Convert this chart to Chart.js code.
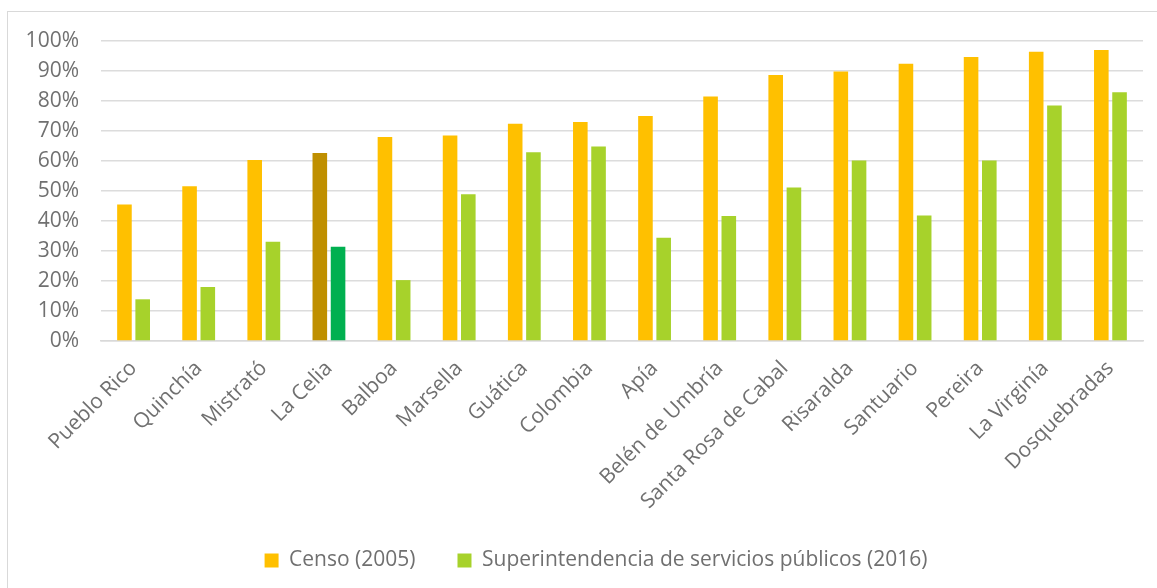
<!DOCTYPE html>
<html>
<head>
<meta charset="utf-8">
<script src="https://cdn.jsdelivr.net/npm/chart.js@4.4.0/dist/chart.umd.min.js"></script>
<style>
  html, body { margin: 0; padding: 0; background: #ffffff; overflow: hidden; }
  #wrap { position: relative; width: 1157px; height: 588px; }
  #frame { position: absolute; left: 7px; top: 11px; width: 2000px; height: 2000px; border-left: 1px solid #d9d9d9; border-top: 1px solid #d9d9d9; }
  canvas { position: absolute; left: 0; top: 0; }
</style>
</head>
<body>
<div id="wrap">
  <div id="frame"></div>
  <canvas id="c" width="1157" height="588"></canvas>
</div>
<script>
const categories = ["Pueblo Rico", "Quinchía", "Mistrató", "La Celia", "Balboa", "Marsella", "Guática", "Colombia", "Apía", "Belén de Umbría", "Santa Rosa de Cabal", "Risaralda", "Santuario", "Pereira", "La Virginía", "Dosquebradas"];
const censo2005 = [45.5, 51.6, 60.3, 62.7, 68.0, 68.5, 72.4, 73.0, 75.0, 81.5, 88.7, 89.8, 92.4, 94.7, 96.4, 97.0];
const superservicios2016 = [13.9, 18.0, 33.1, 31.4, 20.3, 48.9, 62.9, 64.8, 34.4, 41.7, 51.2, 60.2, 41.8, 60.2, 78.5, 82.9];
const seriesNames = ["Censo (2005)", "Superintendencia de servicios públicos (2016)"];
const yTicks = [0, 10, 20, 30, 40, 50, 60, 70, 80, 90, 100];
const highlighted = "La Celia";

const FONT = "'Open Sans', sans-serif";
const TXT = "#707070";
const orange = "#FFC000", orangeHi = "#BF8F00";
const green = "#A7D22B", greenHi = "#00B050";

const colorsFor = (base, hi) => categories.map(c => c === highlighted ? hi : base);

// nudge the legend box after layout so it sits where the original places it
const legendShift = {
  id: "legendShift",
  afterLayout(chart) {
    const l = chart.legend;
    if (!l) return;
    l.left += 21; l.right += 21;
    l.top -= 7; l.bottom -= 7;
  }
};

new Chart(document.getElementById("c"), {
  type: "bar",
  data: {
    labels: categories,
    datasets: [
      { label: seriesNames[0], data: censo2005, backgroundColor: colorsFor(orange, orangeHi), borderWidth: 0, categoryPercentage: 0.56, barPercentage: 0.8 },
      { label: seriesNames[1], data: superservicios2016, backgroundColor: colorsFor(green, greenHi), borderWidth: 0, categoryPercentage: 0.56, barPercentage: 0.8 }
    ]
  },
  plugins: [legendShift],
  options: {
    responsive: false,
    animation: false,
    devicePixelRatio: 1,
    layout: { padding: { top: 41, right: 14, left: 7, bottom: 0 } },
    plugins: {
      tooltip: { enabled: false },
      legend: {
        position: "bottom",
        labels: {
          color: TXT,
          font: { family: FONT, size: 21 },
          boxWidth: 14,
          boxHeight: 14,
          padding: 42,
          generateLabels: (chart) => chart.data.datasets.map((ds, i) => ({
            text: ds.label,
            fillStyle: i === 0 ? orange : green,
            strokeStyle: i === 0 ? orange : green,
            lineWidth: 0,
            fontColor: TXT,
            datasetIndex: i
          }))
        }
      }
    },
    scales: {
      x: {
        grid: { display: false, drawTicks: false },
        border: { display: true, color: "#d9d9d9", width: 1.5 },
        ticks: {
          color: TXT,
          font: { family: FONT, size: 21 },
          maxRotation: 45,
          minRotation: 45,
          autoSkip: false,
          padding: 15,
          labelOffset: 0
        },
        afterFit: (s) => { s.height = 174; }
      },
      y: {
        min: 0,
        max: 100,
        afterBuildTicks: (s) => { s.ticks = yTicks.map(v => ({ value: v })); },
        grid: { color: "#dcdcdc", lineWidth: 1.5, drawTicks: false },
        border: { display: false },
        ticks: {
          color: TXT,
          font: { family: FONT, size: 21 },
          padding: 22,
          callback: (v) => v + "%"
        },
        afterFit: (s) => { s.width = 94; }
      }
    }
  }
});
</script>
</body>
</html>
